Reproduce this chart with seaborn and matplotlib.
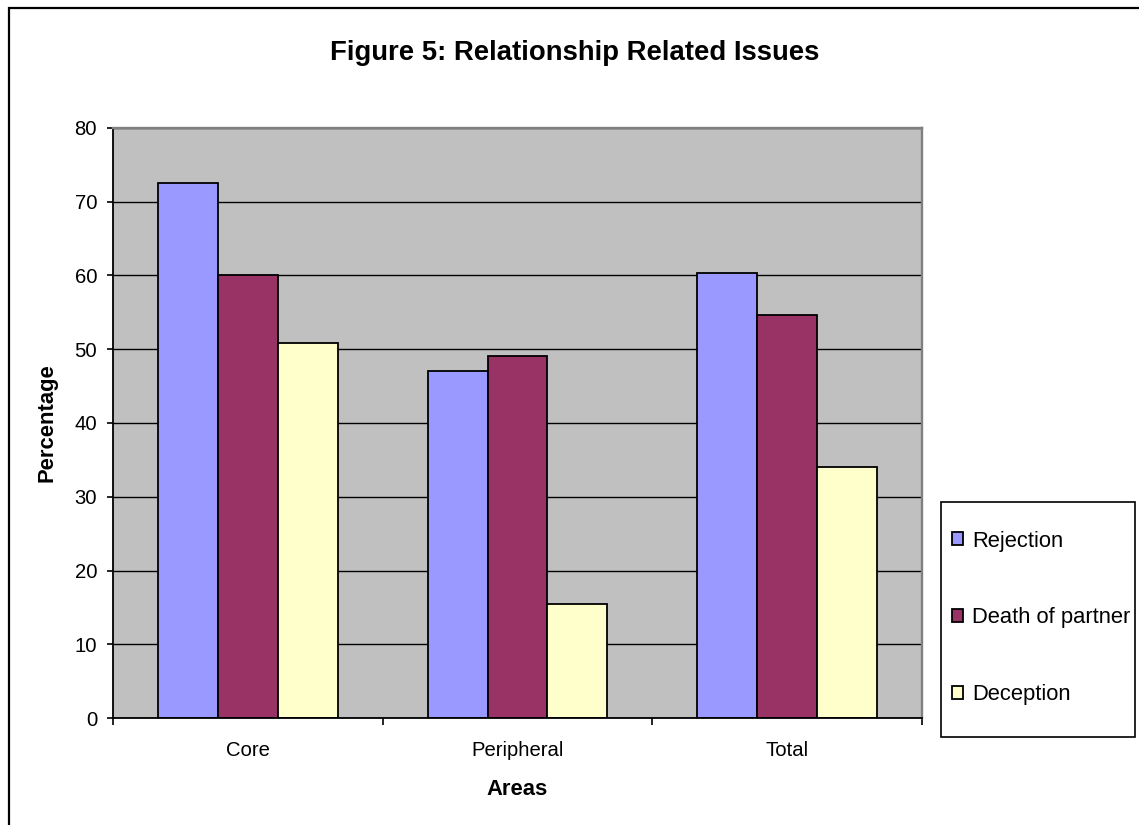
import matplotlib
matplotlib.use("Agg")
import matplotlib.pyplot as plt
from matplotlib.patches import Rectangle
from matplotlib.ticker import FixedLocator, NullFormatter
import seaborn as sns
import pandas as pd

# Data
areas = ["Core", "Peripheral", "Total"]
issues = ["Rejection", "Death of partner", "Deception"]
rejection = [72.6, 47.0, 60.4]
death_of_partner = [60.0, 49.1, 54.7]
deception = [50.9, 15.5, 34.0]
y_ticks = [0, 10, 20, 30, 40, 50, 60, 70, 80]

palette = {"Rejection": "#9999FF", "Death of partner": "#993366", "Deception": "#FFFFCC"}

rows = []
for issue, vals in zip(issues, [rejection, death_of_partner, deception]):
    for area, v in zip(areas, vals):
        rows.append({"Areas": area, "Issue": issue, "Percentage": v})
df = pd.DataFrame(rows)

sns.set_theme(style="white")
plt.rcParams["font.family"] = ["Liberation Sans", "DejaVu Sans"]
plt.rcParams["text.color"] = "black"

fig = plt.figure(figsize=(11.39, 8.25), dpi=100)
ax = fig.add_axes([113 / 1139, 107 / 825, 809 / 1139, 590 / 825])

sns.barplot(data=df, x="Areas", y="Percentage", hue="Issue", order=areas,
            hue_order=issues, palette=palette, width=2 / 3, gap=0,
            edgecolor="black", linewidth=1.3, saturation=1, ax=ax, legend=True)

ax.set_facecolor("#C0C0C0")
ax.set_xlim(-0.5, 2.5)
ax.set_ylim(0, 80)
ax.set_yticks(y_ticks)
ax.yaxis.grid(True, color="black", linewidth=1.0)
ax.xaxis.grid(False)
ax.set_axisbelow(True)

# Spines
for side in ["left", "bottom"]:
    ax.spines[side].set_color("black")
    ax.spines[side].set_linewidth(1.3)
for side in ["top", "right"]:
    ax.spines[side].set_color("#808080")
    ax.spines[side].set_linewidth(1.7)

# Ticks: labels at category centres, tick marks at category boundaries
ax.xaxis.set_minor_locator(FixedLocator([-0.5, 0.5, 1.5, 2.5]))
ax.xaxis.set_minor_formatter(NullFormatter())
ax.tick_params(axis="x", which="major", length=0, pad=16.5, labelsize=14.6, colors="black")
ax.tick_params(axis="x", which="minor", bottom=True, length=5, width=1.2, color="black")
ax.tick_params(axis="y", which="major", left=True, length=4.5, width=1.2, color="black",
               pad=7.0, labelsize=14.6, labelcolor="black")

ax.set_xlabel("Areas", fontsize=15.8, fontweight="bold", color="black")
ax.set_ylabel("Percentage", fontsize=15.8, fontweight="bold", color="black")
ax.xaxis.set_label_coords(0.5, -0.104)
ax.yaxis.set_label_coords(-0.068, 0.5)

fig.text(575 / 1139, 1 - 53 / 825, "Figure 5: Relationship Related Issues",
         ha="center", va="center", fontsize=19.8, fontweight="bold", color="black")

# Legend
handles, labels = ax.get_legend_handles_labels()
ax.legend_.remove()
fig.legend(handles, labels, loc="center left", bbox_to_anchor=(952 / 1139, 1 - 618 / 825),
           frameon=False, fontsize=15.8, handlelength=0.5, handleheight=0.5,
           handletextpad=0.4, labelspacing=2.55, borderpad=0, borderaxespad=0,
           labelcolor="black")
fig.patches.append(Rectangle((941 / 1139, 88 / 825), 194 / 1139, 235 / 825,
                             transform=fig.transFigure, fill=False,
                             edgecolor="black", linewidth=1.2))

# Outer chart border
fig.patches.append(Rectangle((8.5 / 1139, -0.1), 1.2, 1.1 - 8.5 / 825,
                             transform=fig.transFigure, fill=False,
                             edgecolor="black", linewidth=1.6))

fig.savefig("out.png", dpi=100, facecolor="white")
